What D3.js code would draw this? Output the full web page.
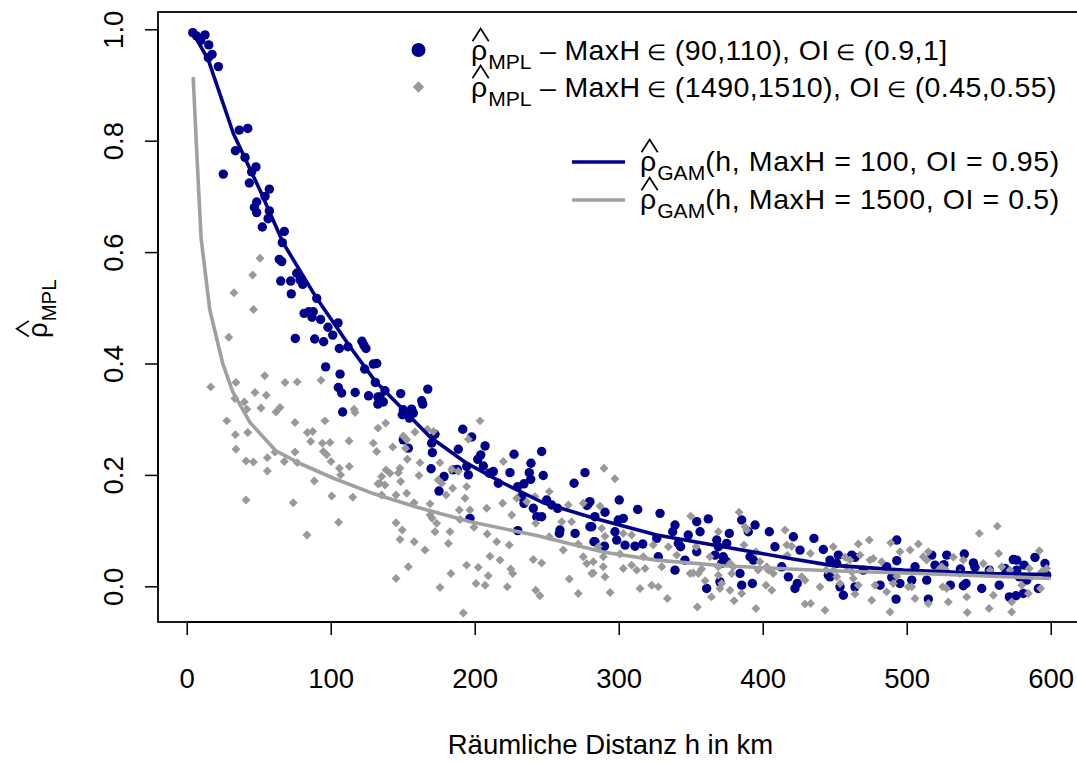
<!DOCTYPE html>
<html><head><meta charset="utf-8">
<script src="https://cdn.jsdelivr.net/npm/d3@7"></script>
<style>
body{margin:0;background:#fff}
svg{display:block}
text{font-family:"Liberation Sans",Arial,Helvetica,sans-serif;fill:#000}
</style>
</head><body>
<svg id="chart" width="1077" height="762"></svg>
<script>
// ---------- data ----------
const xTicks = [0, 100, 200, 300, 400, 500, 600];
const yTicks = [0.0, 0.2, 0.4, 0.6, 0.8, 1.0];
const yTickLabels = ["0.0", "0.2", "0.4", "0.6", "0.8", "1.0"];
const xLabel = "Räumliche Distanz h in km";

// rho_MPL, MaxH in (90,110), OI in (0.9,1]  : [h, rho]
const bluePoints = [
[4.2,0.994],[6.9,0.988],[9.7,0.980],[12.7,0.990],[15.3,0.972],[17.6,0.955],[15,0.949],[22,0.933],[36.5,0.819],[42.4,0.822],[33.8,0.782],[40.5,0.770],[25.4,0.740],[48.1,0.753],[45.1,0.744],[43.5,0.724],[57.4,0.713],[54.4,0.700],[48.6,0.690],[47,0.680],[57.4,0.674],[48.6,0.671],[56.5,0.660],[52.5,0.645],[67.8,0.637],
[66.4,0.617],[64.3,0.587],[66,0.583],[76.4,0.562],[78.7,0.550],[80.6,0.542],[65.3,0.548],[72.2,0.548],[72.6,0.525],[90.3,0.517],[81.5,0.490],[84.7,0.493],[87.9,0.493],[87,0.483],[93,0.479],[98.1,0.465],[101.4,0.451],[105.1,0.473],[75.4,0.445],[88.9,0.444],[95.1,0.439],[106,0.427],[112,0.430],[121.7,0.440],[124.5,0.427],[123,0.433],[129.6,0.399],[132,0.400],[96.5,0.394],[106.5,0.381],[123.6,0.390],[131,0.366],[105.3,0.357],[107.6,0.347],[117,0.348],[126.3,0.342],[132.8,0.340],[132.8,0.327],[108.3,0.313],
[133.8,0.334],[136.5,0.331],[137.7,0.351],[134.2,0.340],[148.6,0.346],[150.4,0.317],[156.2,0.318],[157.4,0.311],[149.7,0.308],[154.6,0.302],[163.2,0.333],[163.9,0.327],[167.4,0.354],[150.4,0.263],[153.9,0.248],[172.4,0.273],[170.1,0.257],[170.6,0.240],[169.7,0.211],[178.7,0.197],[175.2,0.171],[191.7,0.282],[197.9,0.268],[188.6,0.246],[207.2,0.252],[202.1,0.228],[204.2,0.236],[206,0.216],[194.4,0.215],[195.6,0.200],[185.1,0.209],[187.9,0.210],[227.3,0.237],[246.5,0.242],[239.1,0.221],[237.9,0.204],[238.9,0.192],[247.6,0.199],[224.5,0.204],[210.1,0.203],[212.9,0.206],[216.4,0.185],[229.9,0.179],[234.2,0.184],[232.6,0.161],[234.2,0.149],[240.7,0.140],[243.1,0.125],[246.5,0.125],[250,0.155],[253.5,0.146],[259.2,0.101],[258.8,0.095],[257.6,0.140],[269,0.185],[276.6,0.204],[278.9,0.149],[278,0.145],[280,0.107],[282.8,0.080],[269.7,0.095],[229.9,0.100],[196.7,0.122],
[280,0.152],[283.5,0.125],[281.3,0.107],[283.5,0.080],[290.5,0.133],[290.1,0.072],[297.4,0.098],[299.7,0.119],[303.2,0.122],[300.4,0.155],[298.6,0.083],[304.4,0.074],[311.3,0.072],[316.7,0.076],[313.2,0.138],[328.7,0.131],[326.4,0.086],[327.5,0.053],[339.1,0.029],[339.1,0.110],[337.5,0.098],[341.4,0.077],[343,0.071],[348.3,0.092],[354.2,0.116],[362.2,0.121],[356.5,0.098],[354.2,0.062],[346,0.047],[361.1,-0.004],[368.1,0.083],[369.2,0.071],[375,0.077],[376.8,0.095],[366.9,0.056],[372.6,0.053],[375,0.044],[371.5,0.041],[370.3,0.008],[384.2,0.023],[385.4,0.002],[385.4,0.119],[390,0.098],[394.7,0.110],[392.8,0.005],[391.2,0.053],[393.5,0.047],[404.6,0.098],[408.5,0.071],[413.2,0.035],[417.8,0.017],[421.3,0.089],[424,0.005],[422.4,-0.004],[425.9,0.065],[435.6,0.086],[442.1,0.066],[445.6,0.020],
[446.7,0.047],[452.5,0.056],[451.4,0.041],[446.7,0.017],[453.7,-0.001],[456,-0.016],[461.8,0.056],[464.1,0.052],[464.1,-0.001],[469.9,0.029],[481.5,0.002],[486.1,0.035],[489.6,0.016],[495.3,0.005],[493.1,0.083],[493.1,0.046],[492.6,-0.023],[505.8,0.035],[503.5,0.011],[513.9,0.011],[515,-0.023],[517.4,0.056],[519.7,0.038],[527.8,0.056],[525.9,0.039],[530.3,0.002],[540,0.058],[537.3,0.031],[539.3,0.001],[541.2,0.005],[546.3,0.042],[547.4,0.034],[552.1,-0.004],[557.4,0.029],[564.3,0.002],[568.3,0.032],[574,0.048],[576.4,0.047],[576.4,0.029],[578.2,0.017],[571.3,-0.019],[575.9,-0.017],[581.5,0.038],[583.3,0.011],[581,-0.013],[589.1,0.052],[591.4,-0.004],[596,0.041],[597.2,0.020]
];

// rho_MPL, MaxH in (1490,1510), OI in (0.45,0.55) : [h, rho]
const greyPoints = [
[50.9,0.589],[45.8,0.559],[32.8,0.527],[46.4,0.497],[29.2,0.447],[16.7,0.358],[34.2,0.366],[54.2,0.378],[68.3,0.366],[76.8,0.367],[93.3,0.370],[47.4,0.348],[55.3,0.343],[33.5,0.337],[40,0.331],[41.7,0.318],[51.6,0.320],[62,0.313],[64.8,0.321],[27.8,0.297],[75.2,0.294],[96,0.297],[116.2,0.318],[116.9,0.312],
[33.8,0.272],[42.4,0.276],[34.2,0.246],[41.2,0.225],[46.3,0.223],[56,0.231],[56,0.207],[61.3,0.241],[67.8,0.224],[75.2,0.241],[76.8,0.222],[83.8,0.276],[87.5,0.278],[86.1,0.260],[94.2,0.257],[99.5,0.258],[94.9,0.242],[97.2,0.236],[100.2,0.224],[112.7,0.261],[112.9,0.215],[106,0.212],[106.9,0.200],[129.6,0.257],[131.9,0.242],[132.8,0.284],[88.6,0.189],[100.7,0.162],[115.3,0.160],[41.2,0.155],[74,0.150],[105.5,0.115],[83.5,0.092],[132.8,0.184],
[138.2,0.293],[143.1,0.250],[150.4,0.270],[152.8,0.263],[152,0.248],[158.5,0.277],[167.1,0.282],[171.3,0.278],[162,0.222],[161.3,0.199],[153.2,0.228],[148.1,0.212],[147,0.204],[138.4,0.209],[141.2,0.203],[135.4,0.197],[134.2,0.185],[137.7,0.182],[135.4,0.164],[148.6,0.188],[145.4,0.164],[152.8,0.167],[157.9,0.150],[169,0.148],[175.9,0.222],[174.7,0.191],[177.1,0.185],[180.1,0.164],[184.7,0.176],[188.6,0.206],[193.3,0.158],[194.4,0.179],[189.3,0.137],[196.7,0.137],[203.7,0.297],[195.6,0.264],[184,0.210],[169,0.128],[170.4,0.122],[173.6,0.113],[172.4,0.098],[182.8,0.098],[181.7,0.077],[165.5,0.065],[158,0.080],[149.7,0.101],[148.1,0.084],[145.4,0.114],[153.9,0.035],[145.4,0.014],[175.9,-0.002],[183.5,0.023],[192.1,-0.048],[194.4,0.038],[202.5,0.034],[200.9,0.005],[207.2,0.002],[210.6,0.054],[209.4,0.019],[217.6,0.047],[222.6,-0.001],[224,0.074],[215.3,0.080],[208.7,0.094],[199.5,0.106],[189.8,0.120],[225,0.031],[226.4,0.023],[208.3,0.140],[219.4,0.149],[225.7,0.128],[219.9,0.224],[229.2,0.158],[236.1,0.152],[241.9,0.161],[242.4,0.113],[251.8,0.170],[251.8,0.089],[240.7,0.048],[246.5,0.042],[242.4,-0.007],[245.3,-0.017],[261.5,0.065],[265.7,0.013],[271.9,-0.013],[271.9,0.076],[275.4,0.053],[277.8,0.041],[265,0.146],[275.4,0.149],[267.3,0.116],[281.3,0.023],[260.4,0.116],
[289.8,0.212],[297.4,0.193],[287,0.144],[288.2,0.104],[290.5,0.090],[285.8,0.071],[289.3,0.053],[282.4,0.044],[282.4,0.024],[289.3,0.035],[290.5,0.017],[294,-0.011],[303.2,0.095],[309,0.092],[300.9,0.058],[303.2,0.032],[309,0.038],[312.5,0.029],[318.3,0.032],[314.8,-0.004],[322.9,0.002],[327.5,-0.001],[324,0.074],[317.1,0.053],[329.9,0.035],[333.8,-0.022],[334.5,0.071],[340.3,0.056],[350,0.126],[349.6,0.023],[351.8,0.024],[355.3,0.023],[357.6,0.031],[353.7,0.071],[354.6,-0.037],[360,0.010],[363.4,0.053],[364.4,-0.019],[369.2,0.098],[369.2,0.035],[369.2,0.020],[371.5,0.005],[370.3,-0.004],[377.3,-0.007],[377.3,0.041],[379.6,0.035],[378.5,0.023],[380.1,-0.026],[383.6,0.133],[387.7,0.107],[388.9,0.101],[387,0.074],[385.4,-0.013],[395.3,-0.040],[395.3,0.062],[398.1,0.044],[402.8,0.035],[396.8,0.029],[402.3,0.002],[406.3,-0.007],[415.5,0.101],[416.7,0.074],[420.1,0.072],[417.1,0.056],[427.1,0.017],[429.4,0.011],[429.4,-0.032],[433.3,-0.031],[433.1,0.059],[443.3,-0.043],[439.8,-0.001],[403.9,0.029],[407.4,0.023],
[449,0.071],[444,0.029],[449,0.029],[451.4,0.017],[453.7,0.005],[457.2,0.052],[460.6,0.047],[458.3,0.035],[461.8,0.026],[466.4,0.076],[474,0.083],[467.6,0.056],[462.9,0.014],[466.4,0.002],[464.1,-0.014],[474.5,0.047],[476.8,0.050],[475.7,-0.025],[478,0.002],[482.6,0.044],[486.1,-0.010],[488.4,-0.046],[488.9,0.078],[495.3,0.062],[490.7,0.005],[493.1,0.018],[502.3,0.065],[508.1,0.076],[505.8,-0.022],[501.1,-0.001],[503.5,-0.001],[511.5,0.053],[515,0.062],[513.9,0.047],[515,-0.031],[522,0.029],[524.3,0.035],[527.3,0.029],[525,-0.001],[527.8,-0.004],[528.9,-0.028],[532.4,0.052],[537,0.023],[539.3,0.047],[541.7,-0.019],[542.1,-0.047],[550.4,0.095],[553.2,0.041],[557.9,0.029],[560.2,-0.016],[557.2,-0.040],[562.9,0.108],[563.9,0.059],[566,0.035],[571.7,0.029],[572.9,-0.028],[572.9,-0.046],[579.9,0.002],[585.1,0.032],[586.8,0.017],[584.5,-0.013],[592.1,0.064],[593,-0.004],[593.7,0.026],[597.2,0.032]
];

// GAM fits : [h, rho]
const gamBlue = [[4.6,0.993],[15,0.945],[32.4,0.813],[50.9,0.711],[67.1,0.616],[90.3,0.517],[113.4,0.430],[131,0.368],[169,0.268],[194.4,0.221],[220,0.185],[247.6,0.150],[283,0.122],[326.4,0.092],[372.6,0.071],[419,0.050],[446.7,0.038],[497.7,0.029],[555.6,0.023],[600,0.021]];
const gamGrey = [[4.5,0.914],[7,0.778],[10,0.625],[16,0.497],[25,0.400],[32,0.349],[44,0.294],[62,0.243],[79,0.220],[102,0.194],[130,0.166],[160,0.142],[197,0.116],[243,0.091],[290,0.061],[326,0.047],[373,0.037],[419,0.031],[447,0.028],[509,0.023],[600,0.014]];

const blueCol = "#00008B", greyCol = "#999999", greyLine = "#A0A0A0";

// ---------- layout ----------
const svg = d3.select("#chart");
const box = {left: 158, right: 1087, top: 12, bottom: 622};
const x = d3.scaleLinear().domain([0, 600]).range([186.7, 1050.7]);
const y = d3.scaleLinear().domain([0, 1]).range([586.3, 29.3]);
const FS = 27.5, LFS = 28.5;

// points
const plot = svg.append("g");
plot.selectAll("circle.b").data(bluePoints).join("circle")
  .attr("class","b").attr("cx", d => x(d[0])).attr("cy", d => y(d[1]))
  .attr("r", 4.7).attr("fill", blueCol);
const diamond = d3.symbol(d3.symbolSquare, 40);
plot.selectAll("path.g").data(greyPoints).join("path")
  .attr("class","g").attr("d", diamond)
  .attr("transform", d => `translate(${x(d[0])},${y(d[1])}) rotate(45)`)
  .attr("fill", greyCol);

// lines
const line = d3.line().x(d => x(d[0])).y(d => y(d[1]));
plot.append("path").attr("d", line(gamBlue)).attr("fill","none")
  .attr("stroke", blueCol).attr("stroke-width", 3.6).attr("stroke-linejoin","round");
plot.append("path").attr("d", line(gamGrey)).attr("fill","none")
  .attr("stroke", greyLine).attr("stroke-width", 3.6).attr("stroke-linejoin","round");

// box
svg.append("rect").attr("x", box.left).attr("y", box.top)
  .attr("width", box.right - box.left).attr("height", box.bottom - box.top)
  .attr("fill","none").attr("stroke","#000").attr("stroke-width",1.8);

// x axis
const xAxis = d3.axisBottom(x).tickValues(xTicks).tickSize(13).tickFormat(d3.format("d"));
const gx = svg.append("g").attr("transform", `translate(0,${box.bottom})`).call(xAxis);
gx.select(".domain").attr("d", `M${x(0)},0H${x(600)}`).attr("stroke-width",1.5);
gx.selectAll(".tick line").attr("stroke-width",1.5);
gx.selectAll(".tick text").attr("font-size", FS).attr("font-family","Liberation Sans, Arial, sans-serif").attr("dy","0.35em").attr("y", 56);

// y axis
const yAxis = d3.axisLeft(y).tickValues(yTicks).tickSize(13).tickFormat((d,i) => yTickLabels[i]);
const gy = svg.append("g").attr("transform", `translate(${box.left},0)`).call(yAxis);
gy.select(".domain").attr("d", `M0,${y(0)}V${y(1)}`).attr("stroke-width",1.5);
gy.selectAll(".tick line").attr("stroke-width",1.5);
gy.selectAll(".tick text").attr("font-size", FS).attr("font-family","Liberation Sans, Arial, sans-serif")
  .attr("x", null).attr("dy", null)
  .attr("text-anchor","middle")
  .attr("transform","translate(-35,0) rotate(-90)")
  .attr("y", 0);

// x label
svg.append("text").attr("x", 610.5).attr("y", 754)
  .attr("text-anchor","middle").attr("font-size", FS).text(xLabel);

// rho-hat with subscript helper
function rhoHat(g, x0, yb, sub, rest, fs, ls) {
  const t = g.append("text").attr("x", x0).attr("y", yb).attr("font-size", fs).text("ρ");
  const w = t.node().getComputedTextLength();
  const hx0 = x0 + 1.5, hx1 = x0 + w + 1.5;
  g.append("path").attr("d", `M${hx0},${yb - fs*0.66}L${(hx0+hx1)/2},${yb - fs*1.1}L${hx1},${yb - fs*0.66}`)
    .attr("fill","none").attr("stroke","#000").attr("stroke-width",1.7);
  const s = g.append("text").attr("x", x0 + w + 1).attr("y", yb + fs*0.31).attr("font-size", fs*0.74).text(sub);
  const sw = s.node().getComputedTextLength();
  if (rest) {
    const r = g.append("text").attr("x", x0 + w + 1 + sw).attr("y", yb).attr("font-size", fs)
      .attr("letter-spacing", ls || 0).attr("xml:space","preserve");
    rest.split("∈").forEach((part, i) => {
      if (i > 0) r.append("tspan").attr("font-size", fs*0.78).text(" ∈");
      r.append("tspan").text(part);
    });
  }
}

// y label (rotated)
const yl = svg.append("g").attr("transform","translate(47,338) rotate(-90)");
rhoHat(yl, 0, 0, "MPL", "", FS);

// legends
const leg = svg.append("g");
const legRows = [
  {sym:"circle", col: blueCol, rest:" – MaxH∈ (90,110), OI∈ (0.9,1]", yb: 60},
  {sym:"diamond", col: greyCol, rest:" – MaxH∈ (1490,1510), OI∈ (0.45,0.55)", yb: 97}
];
legRows.forEach(r => {
  if (r.sym === "circle") leg.append("circle").attr("cx", 418.5).attr("cy", r.yb - 10).attr("r", 7).attr("fill", r.col);
  else leg.append("path").attr("d", d3.symbol(d3.symbolSquare, 64)).attr("transform", `translate(418.5,${r.yb - 10}) rotate(45)`).attr("fill", r.col);
  rhoHat(leg, 471, r.yb, "MPL", r.rest, LFS, 0.4);
});
const lineRows = [
  {col: blueCol, rest:"(h, MaxH = 100, OI = 0.95)", yb: 171},
  {col: greyLine, rest:"(h, MaxH = 1500, OI = 0.5)", yb: 209}
];
lineRows.forEach(r => {
  leg.append("line").attr("x1", 572).attr("x2", 625).attr("y1", r.yb - 9).attr("y2", r.yb - 9)
    .attr("stroke", r.col).attr("stroke-width", 3.6);
  rhoHat(leg, 640, r.yb, "GAM", r.rest, LFS, 0.6);
});
</script>
</body></html>
